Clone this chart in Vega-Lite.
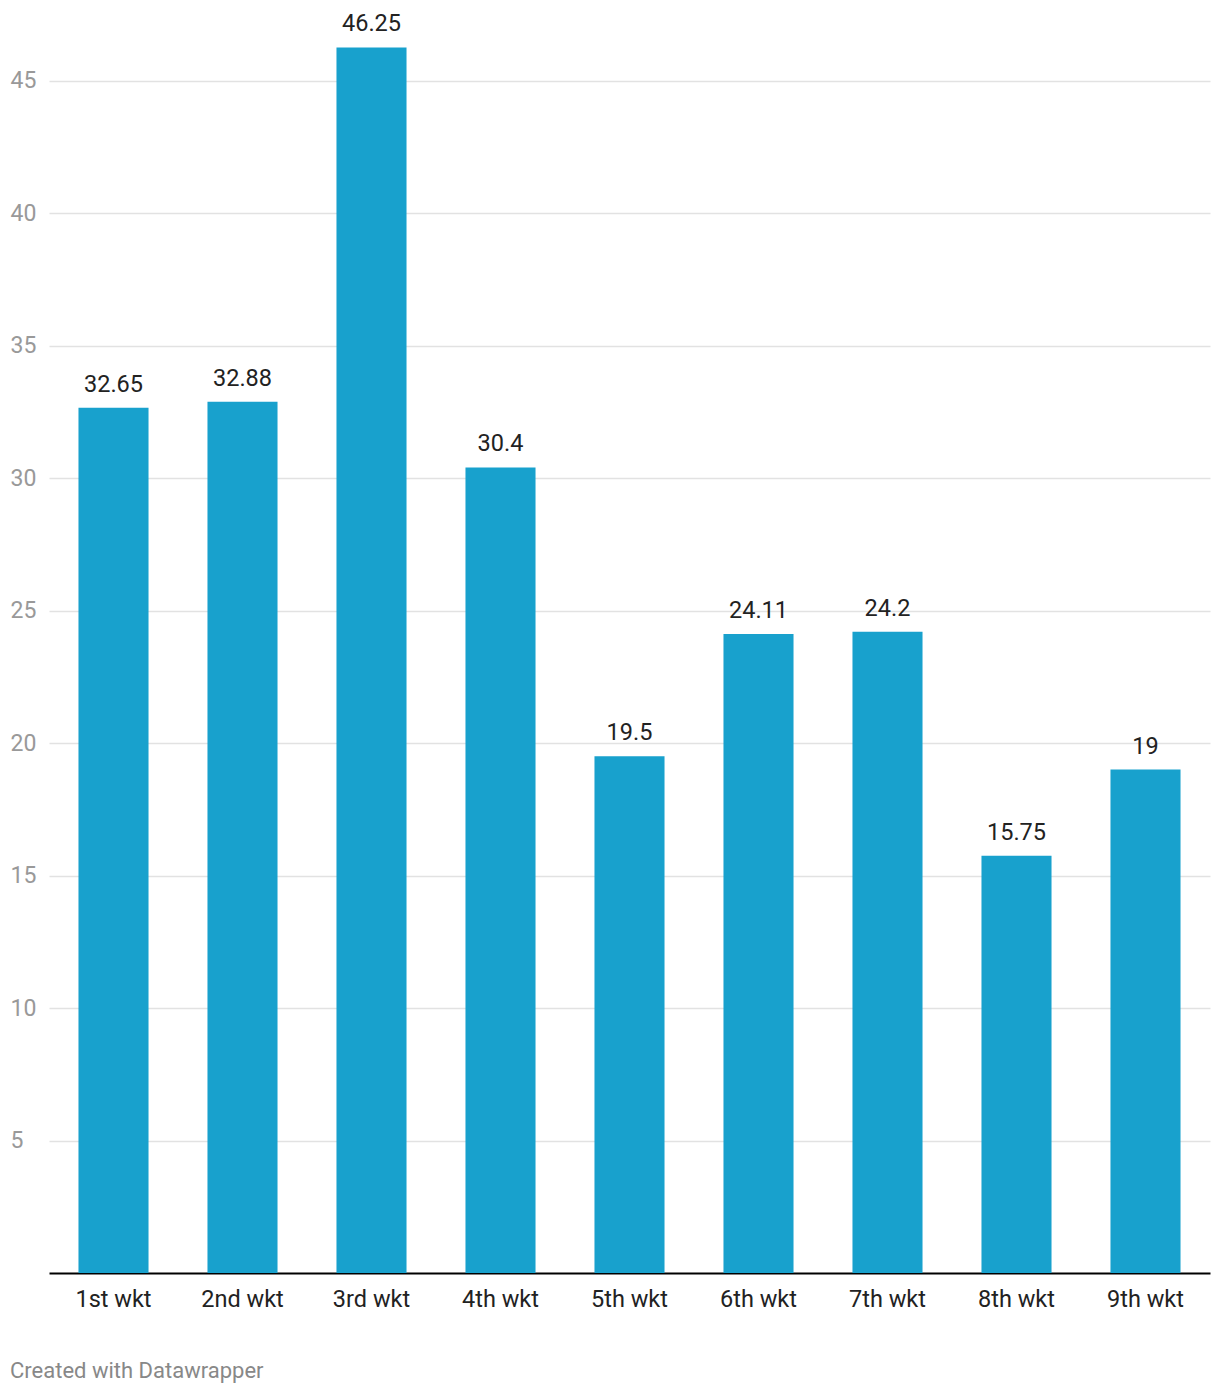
{
  "$schema": "https://vega.github.io/schema/vega-lite/v6.json",
  "width": 1161,
  "height": 1273,
  "autosize": {"type": "none"},
  "padding": {"left": 49, "top": 0, "right": 10, "bottom": 121},
  "background": "white",
  "config": {"font": "Roboto", "view": {"stroke": null}},
  "title": {
    "text": "Created with Datawrapper",
    "orient": "bottom",
    "anchor": "start",
    "frame": "group",
    "dx": -39,
    "offset": 50,
    "fontSize": 22,
    "fontWeight": "normal",
    "color": "#888888",
    "font": "Roboto"
  },
  "data": {
    "values": [
      {"wicket": "1st wkt", "value": 32.65},
      {"wicket": "2nd wkt", "value": 32.88},
      {"wicket": "3rd wkt", "value": 46.25},
      {"wicket": "4th wkt", "value": 30.4},
      {"wicket": "5th wkt", "value": 19.5},
      {"wicket": "6th wkt", "value": 24.11},
      {"wicket": "7th wkt", "value": 24.2},
      {"wicket": "8th wkt", "value": 15.75},
      {"wicket": "9th wkt", "value": 19}
    ]
  },
  "encoding": {
    "x": {
      "field": "wicket",
      "type": "nominal",
      "sort": null,
      "scale": {"paddingInner": 0.457, "paddingOuter": 0.2285},
      "axis": {
        "title": null,
        "labelAngle": 0,
        "ticks": false,
        "domainColor": "#000000",
        "domainWidth": 2,
        "labelFontSize": 23.5,
        "labelColor": "#222222",
        "labelPadding": 14,
        "labelFont": "Roboto"
      }
    },
    "y": {
      "field": "value",
      "type": "quantitative",
      "scale": {"domain": [0, 48.04], "nice": false, "zero": true},
      "axis": {
        "title": null,
        "values": [5, 10, 15, 20, 25, 30, 35, 40, 45],
        "domain": false,
        "ticks": false,
        "grid": true,
        "gridColor": "#e2e2e2",
        "gridWidth": 1.5,
        "labelAlign": "left",
        "labelPadding": 39,
        "labelBaseline": "middle",
        "labelFontSize": 23,
        "labelColor": "#999999",
        "labelFont": "Roboto"
      }
    }
  },
  "layer": [
    {"mark": {"type": "bar", "color": "#18a1cd"}},
    {
      "mark": {"type": "text", "baseline": "alphabetic", "dy": -16, "fontSize": 23.5, "color": "#222222", "font": "Roboto"},
      "encoding": {"text": {"field": "value", "type": "quantitative"}}
    }
  ]
}
